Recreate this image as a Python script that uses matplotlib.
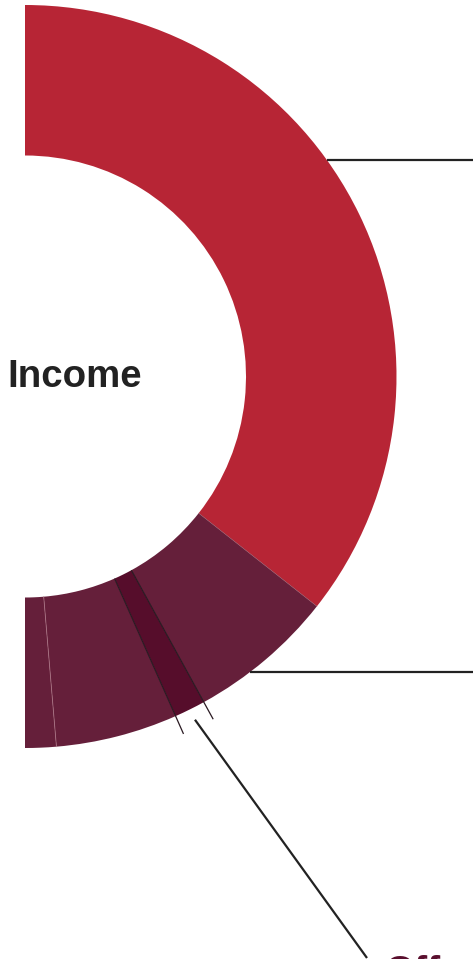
import numpy as np
import matplotlib
matplotlib.use("Agg")
import matplotlib.pyplot as plt

# ---- data (shares of income) ----
categories = ["Main", "Second", "Offerings", "Fourth", "Fifth"]
values = [71.3, 12.8, 2.7, 10.6, 2.7]
colors = ["#B72535", "#651F3A", "#560D2B", "#651F3A", "#651F3A"]
center_label = "Income"
callout_label = "Offerings"

W, H = 473, 959
fig = plt.figure(figsize=(W / 100, H / 100), dpi=100)
ax = fig.add_axes([0, 0, 1, 1])

cx, cy = 25, H - 376.5
R_out, R_in = 371.5, 221.0
total = sum(values)

wedges, _ = ax.pie(values + [total], colors=colors + ["none"], startangle=90,
                   counterclock=False, center=(cx, cy), radius=R_out,
                   wedgeprops=dict(width=R_out - R_in, linewidth=0))
wedges[-1].set_visible(False)

# boundary angles (degrees)
bounds = [90.0]
for v in values:
    bounds.append(bounds[-1] - v / (2 * total) * 360)

def pt(r, a):
    t = np.deg2rad(a)
    return cx + r * np.cos(t), cy + r * np.sin(t)

# dark edges around the highlighted strip, with short ticks outside
for a in (bounds[2], bounds[3]):
    p0 = pt(R_in, a)
    p1 = pt(391, a)
    ax.plot([p0[0], p1[0]], [p0[1], p1[1]], color="#2a1a22", lw=0.9,
            solid_capstyle="butt")
# faint separators
ax.plot(*zip(pt(R_in, bounds[1]), pt(R_out, bounds[1])), color="#9a5a6a",
        lw=0.5, alpha=0.6)
ax.plot(*zip(pt(R_in, bounds[4]), pt(R_out, bounds[4])), color="#b07888",
        lw=0.6, alpha=0.8)

# leader lines
y1 = H - 160
x1 = cx + np.sqrt(R_out**2 - (y1 - cy) ** 2)
ax.plot([x1, W], [y1, y1], color="#222222", lw=1.6, solid_capstyle="butt")
y2 = H - 672
x2 = cx + np.sqrt(R_out**2 - (y2 - cy) ** 2)
ax.plot([x2, W], [y2, y2], color="#222222", lw=1.6, solid_capstyle="butt")
amid = (bounds[2] + bounds[3]) / 2
s = pt(383, amid)
ax.plot([s[0], 367], [s[1], H - 958], color="#222222", lw=1.6,
        solid_capstyle="butt")

ax.text(7, H - 387, center_label, fontsize=27.6, fontweight="bold",
        family=["Liberation Sans", "DejaVu Sans"], color="#222222",
        ha="left", va="baseline")
ax.text(384, H - 983, callout_label, fontsize=28, fontweight="bold",
        family=["Liberation Sans", "DejaVu Sans"], color="#5A0F2E",
        ha="left", va="baseline", clip_on=False)

ax.set_xlim(0, W)
ax.set_ylim(0, H)
ax.set_aspect("auto")
ax.axis("off")
fig.savefig("out.png", dpi=100)
